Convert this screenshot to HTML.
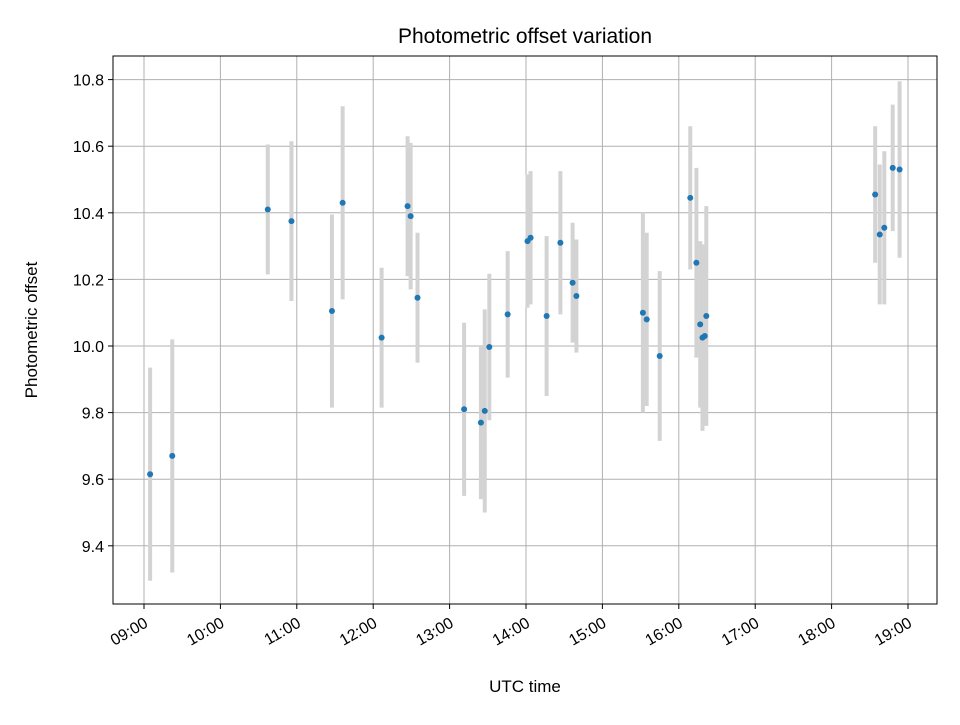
<!DOCTYPE html>
<html><head><meta charset="utf-8"><style>
body{margin:0;background:#fff}
svg text{font-family:"Liberation Sans","DejaVu Sans",sans-serif;fill:#000}
</style></head><body>
<svg id="chart" width="960" height="720" xmlns="http://www.w3.org/2000/svg">
<rect x="0" y="0" width="960" height="720" fill="#fff"/>
<g id="grid"></g>
<g id="bars"></g>
<g id="pts"></g>
<rect x="113" y="56" width="824" height="548" fill="none" stroke="#000" stroke-width="1"/>
<g id="xt"></g>
<g id="yt"></g>
<text x="525" y="43" font-size="21" text-anchor="middle">Photometric offset variation</text>
<text x="525" y="692" font-size="17" text-anchor="middle">UTC time</text>
<text x="37" y="330" font-size="17" text-anchor="middle" transform="rotate(-90 37 330)">Photometric offset</text>
</svg>
<script>
const times=[9.08,9.37,10.62,10.93,11.46,11.6,12.11,12.45,12.49,12.58,13.19,13.41,13.46,13.52,13.76,14.02,14.06,14.27,14.45,14.61,14.66,15.53,15.58,15.75,16.15,16.23,16.28,16.31,16.34,16.36,18.57,18.63,18.69,18.8,18.89];
const values=[9.615,9.67,10.41,10.375,10.105,10.43,10.025,10.42,10.39,10.145,9.81,9.77,9.805,9.997,10.095,10.315,10.325,10.09,10.31,10.19,10.15,10.1,10.08,9.97,10.445,10.25,10.065,10.025,10.03,10.09,10.455,10.335,10.355,10.535,10.53];
const errors=[0.32,0.35,0.195,0.24,0.29,0.29,0.21,0.21,0.22,0.195,0.26,0.23,0.305,0.22,0.19,0.2,0.2,0.24,0.215,0.18,0.17,0.3,0.26,0.255,0.215,0.285,0.25,0.28,0.26,0.33,0.205,0.21,0.23,0.19,0.265];
const xTicks=[9,10,11,12,13,14,15,16,17,18,19];
const xTickLabels=["09:00","10:00","11:00","12:00","13:00","14:00","15:00","16:00","17:00","18:00","19:00"];
const yTicks=[9.4,9.6,9.8,10.0,10.2,10.4,10.6,10.8];
const NS="http://www.w3.org/2000/svg";
const L=113,R=937,T=56,B=604;
function xs(h){return 144+(h-9)*76.4;}
function ys(v){return 346-(v-10)*333;}
function mk(tag,attrs,parent){const e=document.createElementNS(NS,tag);for(const k in attrs)e.setAttribute(k,attrs[k]);document.getElementById(parent).appendChild(e);return e;}
xTicks.forEach((t,i)=>{const x=xs(t);
 const g=mk('line',{x1:x,x2:x,y1:T,y2:B,stroke:'#b0b0b0','stroke-width':1},'grid');
 
 
 const tk=mk('line',{x1:x,x2:x,y1:B,y2:B+5,stroke:'#000'},'xt');
 
 
 const ax=x+5, ay=B+22;
 const tx=mk('text',{x:ax,y:ay,'font-size':16,'text-anchor':'end',transform:`rotate(-30 ${ax} ${ay})`},'xt');
 tx.textContent=xTickLabels[i];
 
 
});
yTicks.forEach(v=>{const y=ys(v);
 const g=mk('line',{x1:L,x2:R,y1:y,y2:y,stroke:'#b0b0b0','stroke-width':1},'grid');
 
 
 const tk=mk('line',{x1:L-5,x2:L,y1:y,y2:y,stroke:'#000'},'yt');
 
 
 const tx=mk('text',{x:L-9,y:y+6,'font-size':16,'text-anchor':'end'},'yt');
 tx.textContent=v.toFixed(1);
 
 
});
times.forEach((t,i)=>{const x=xs(t);
 const b=mk('line',{x1:x,x2:x,y1:ys(values[i]+errors[i]),y2:ys(values[i]-errors[i]),stroke:'#d3d3d3','stroke-width':4},'bars');
 
 
 const c=mk('circle',{cx:x,cy:ys(values[i]),r:3,fill:'#1f77b4'},'pts');
 
 
});
</script>
</body></html>
